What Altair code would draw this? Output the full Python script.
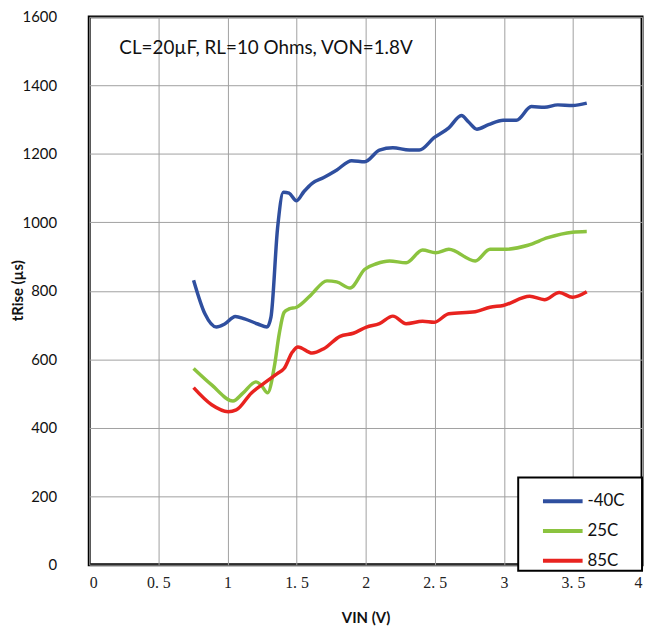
import altair as alt
import pandas as pd

# -40C series
v_m40 = [0.755, 0.838, 0.92, 0.98, 1.057, 1.124, 1.22, 1.286, 1.315, 1.363, 1.405, 1.446, 1.50, 1.554,
         1.613, 1.697, 1.792, 1.899, 1.994, 2.10, 2.197, 2.316, 2.388, 2.495, 2.602, 2.693, 2.745,
         2.805, 2.889, 2.996, 3.091, 3.199, 3.294, 3.39, 3.496, 3.60]
t_m40 = [831, 732, 694, 703, 725, 718, 703, 694, 723, 984, 1088, 1085, 1063, 1090,
         1114, 1131, 1153, 1180, 1177, 1211, 1218, 1211, 1211, 1247, 1276, 1312, 1293,
         1272, 1285, 1298, 1298, 1338, 1336, 1343, 1341, 1348]

# 25C series
v_25 = [0.755, 0.886, 1.04, 1.112, 1.207, 1.243, 1.291, 1.339, 1.375, 1.41, 1.446, 1.50, 1.60, 1.72,
        1.79, 1.887, 1.994, 2.078, 2.173, 2.293, 2.412, 2.507, 2.602, 2.793, 2.90, 2.996, 3.175,
        3.318, 3.497, 3.60]
t_25 = [573, 525, 478, 501, 534, 525, 502, 578, 675, 737, 747, 752, 786, 829,
        826, 808, 863, 879, 887, 882, 919, 911, 921, 887, 921, 921, 933,
        955, 971, 973]

# 85C series
v_85 = [0.755, 0.886, 1.005, 1.064, 1.172, 1.268, 1.363, 1.41, 1.47, 1.51, 1.613, 1.697, 1.815, 1.911,
        2.006, 2.10, 2.197, 2.293, 2.412, 2.495, 2.602, 2.793, 2.90, 2.996, 3.187, 3.294, 3.401,
        3.497, 3.60]
t_85 = [517, 467, 447, 452, 501, 531, 559, 573, 621, 636, 618, 631, 667, 676,
        694, 704, 726, 704, 711, 708, 733, 739, 752, 757, 784, 774, 795,
        781, 797]

series_names = ["-40C", "25C", "85C"]
series_colors = ["#2f4f9f", "#8bc33f", "#e8231f"]
x_ticks = [0, 0.5, 1, 1.5, 2, 2.5, 3, 3.5, 4]
y_ticks = [0, 200, 400, 600, 800, 1000, 1200, 1400, 1600]
note = "CL=20µF, RL=10 Ohms, VON=1.8V"

rows = []
for name, vs, ts in zip(series_names, [v_m40, v_25, v_85], [t_m40, t_25, t_85]):
    for i, (v, t) in enumerate(zip(vs, ts)):
        rows.append({"VIN": v, "tRise": t, "Temp": name, "order": i})
df = pd.DataFrame(rows)

x_enc = alt.X("VIN:Q", title="VIN (V)",
              scale=alt.Scale(domain=[0, 4], nice=False),
              axis=alt.Axis(values=x_ticks, labelExpr="replace(format(datum.value, '~g'), '.', '. ')",
                            labelFont="Liberation Serif", labelFontSize=16, labelColor="#222",
                            labelPadding=10, ticks=False, domain=False, grid=True,
                            gridColor="#a0a0a0", gridWidth=1,
                            titleFont="Lato", titleFontSize=15, titleFontWeight="bold",
                            titleColor="#111", titlePadding=20))
y_enc = alt.Y("tRise:Q", title="tRise (µs)",
              scale=alt.Scale(domain=[0, 1600], nice=False),
              axis=alt.Axis(values=y_ticks, format="d", labelFont="Lato", labelFontSize=15,
                            labelColor="#111",
                            labelPadding=33, ticks=False, domain=False, grid=True,
                            gridColor="#a0a0a0", gridWidth=1,
                            titleFont="Lato", titleFontSize=15, titleFontWeight="bold",
                            titleColor="#111", titleX=-72, titleY=276, titleAngle=270,
                            titleBaseline="middle", titleAlign="center"))

lines = alt.Chart(df).mark_line(strokeWidth=3.5, interpolate="monotone").encode(
    x=x_enc, y=y_enc,
    order="order:Q",
    color=alt.Color("Temp:N",
                    scale=alt.Scale(domain=series_names, range=series_colors),
                    legend=alt.Legend(title="\u00a0", titleOrient="right", titlePadding=16,
                                      titleFontSize=10,
                                      orient="none", legendX=433, legendY=465,
                                      symbolType="stroke", symbolSize=1600, symbolStrokeWidth=4,
                                      symbolOffset=21, labelOffset=3,
                                      labelFont="Lato", labelFontSize=17, labelColor="#111",
                                      rowPadding=-3, padding=2,
                                      strokeColor="#000", fillColor="#fff",
                                      labelLimit=200)),
)

note_df = pd.DataFrame({"VIN": [0.218], "tRise": [1510], "text": [note]})
text = alt.Chart(note_df).mark_text(align="left", baseline="middle", font="Lato",
                                    fontSize=19, color="#111").encode(
    x="VIN:Q", y="tRise:Q", text="text:N")

chart = (lines + text).properties(
    width=558, height=553,
    autosize=alt.AutoSizeParams(type="none"),
    padding={"left": 82, "top": 6, "right": 4, "bottom": 68},
).configure_view(stroke="#000", strokeWidth=3).configure_legend(strokeWidth=2)

chart.save("out.html", embed_options={"renderer": "svg", "actions": False})
